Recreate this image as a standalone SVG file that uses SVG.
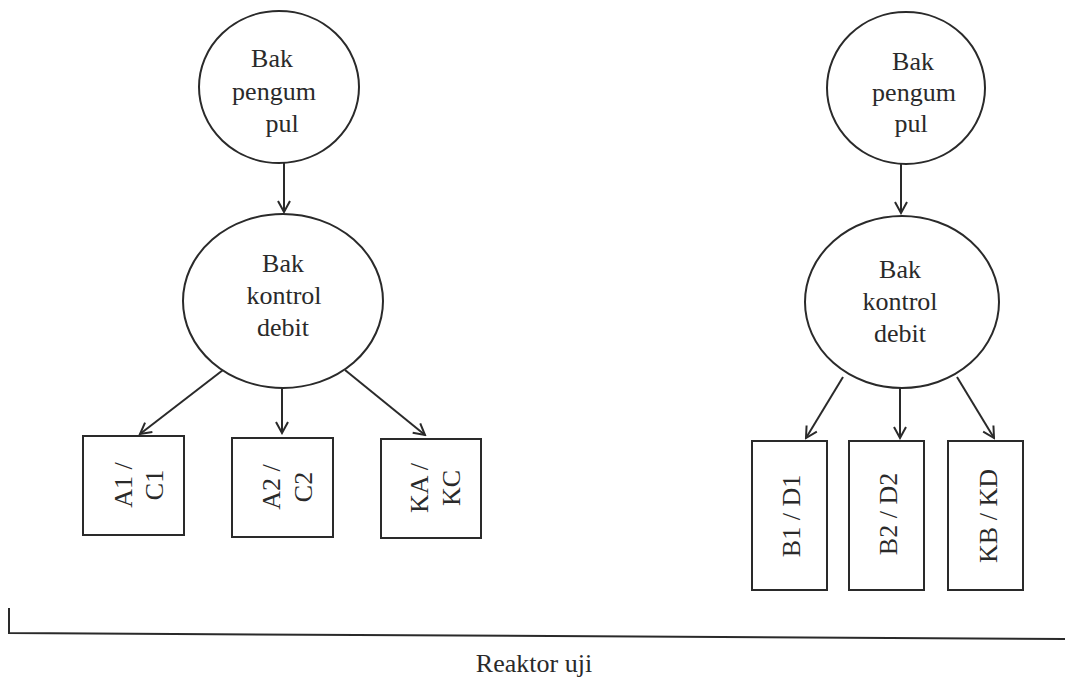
<svg xmlns="http://www.w3.org/2000/svg" width="1065" height="681" viewBox="0 0 1065 681">
<defs>
<marker id="arr" markerWidth="14" markerHeight="14" refX="12" refY="7" orient="auto" markerUnits="userSpaceOnUse">
<path d="M1,1 L12,7 L1,13" fill="none" stroke="#2a2a2a" stroke-width="2"/>
</marker>
<style>
.n{fill:#fff;stroke:#2a2a2a;stroke-width:2}
.t{font-family:"Liberation Serif","Times New Roman",serif;font-size:26px;fill:#2a2a2a;text-anchor:middle}
.c{fill:none;stroke:#2a2a2a;stroke-width:2}
</style>
</defs>
<rect width="1065" height="681" fill="#fff"/>
<g id="connectors">
<line class="c" x1="284" y1="163" x2="284" y2="212" marker-end="url(#arr)"/>
<line class="c" x1="223" y1="370" x2="140" y2="434" marker-end="url(#arr)"/>
<line class="c" x1="282" y1="388" x2="282" y2="433" marker-end="url(#arr)"/>
<line class="c" x1="345" y1="370" x2="425" y2="435" marker-end="url(#arr)"/>
<line class="c" x1="901" y1="164" x2="901" y2="213" marker-end="url(#arr)"/>
<line class="c" x1="843" y1="377" x2="806" y2="438" marker-end="url(#arr)"/>
<line class="c" x1="900" y1="388" x2="900" y2="438" marker-end="url(#arr)"/>
<line class="c" x1="957" y1="377" x2="994" y2="438" marker-end="url(#arr)"/>
<polyline class="c" points="9,608 9,633 1065,639"/>
</g>
<g id="pengumpul-left">
<ellipse class="n" cx="279" cy="87" rx="80" ry="76"/>
<text class="t" x="272" y="67">Bak</text>
<text class="t" x="274" y="100">pengum</text>
<text class="t" x="282" y="132">pul</text>
</g>
<g id="kontrol-left">
<ellipse class="n" cx="283" cy="301" rx="100" ry="87"/>
<text class="t" x="283" y="272">Bak</text>
<text class="t" x="284" y="304">kontrol</text>
<text class="t" x="283" y="336">debit</text>
</g>
<g id="box-a1">
<rect class="n" x="83" y="436" width="101" height="99"/>
<text class="t" transform="translate(132,485) rotate(-90)"><tspan x="0" y="0">A1 /</tspan><tspan x="0" y="31">C1</tspan></text>
</g>
<g id="box-a2">
<rect class="n" x="232" y="438" width="101" height="99"/>
<text class="t" transform="translate(280,487) rotate(-90)"><tspan x="0" y="0">A2 /</tspan><tspan x="0" y="32">C2</tspan></text>
</g>
<g id="box-ka">
<rect class="n" x="381" y="439" width="100" height="99"/>
<text class="t" transform="translate(428,488) rotate(-90)"><tspan x="0" y="0">KA /</tspan><tspan x="0" y="32">KC</tspan></text>
</g>
<g id="pengumpul-right">
<ellipse class="n" cx="906" cy="88" rx="79" ry="76"/>
<text class="t" x="913" y="70">Bak</text>
<text class="t" x="914" y="101">pengum</text>
<text class="t" x="911" y="132">pul</text>
</g>
<g id="kontrol-right">
<ellipse class="n" cx="902" cy="302" rx="97" ry="86"/>
<text class="t" x="900" y="278">Bak</text>
<text class="t" x="900" y="310">kontrol</text>
<text class="t" x="900" y="342">debit</text>
</g>
<g id="box-b1">
<rect class="n" x="752" y="441" width="75" height="149"/>
<text class="t" transform="translate(800,516) rotate(-90)">B1 / D1</text>
</g>
<g id="box-b2">
<rect class="n" x="849" y="441" width="75" height="149"/>
<text class="t" transform="translate(897,514) rotate(-90)">B2 / D2</text>
</g>
<g id="box-kb">
<rect class="n" x="948" y="441" width="75" height="149"/>
<text class="t" transform="translate(997,516) rotate(-90)">KB / KD</text>
</g>
<g id="label">
<text class="t" x="534" y="672">Reaktor uji</text>
</g>
</svg>
